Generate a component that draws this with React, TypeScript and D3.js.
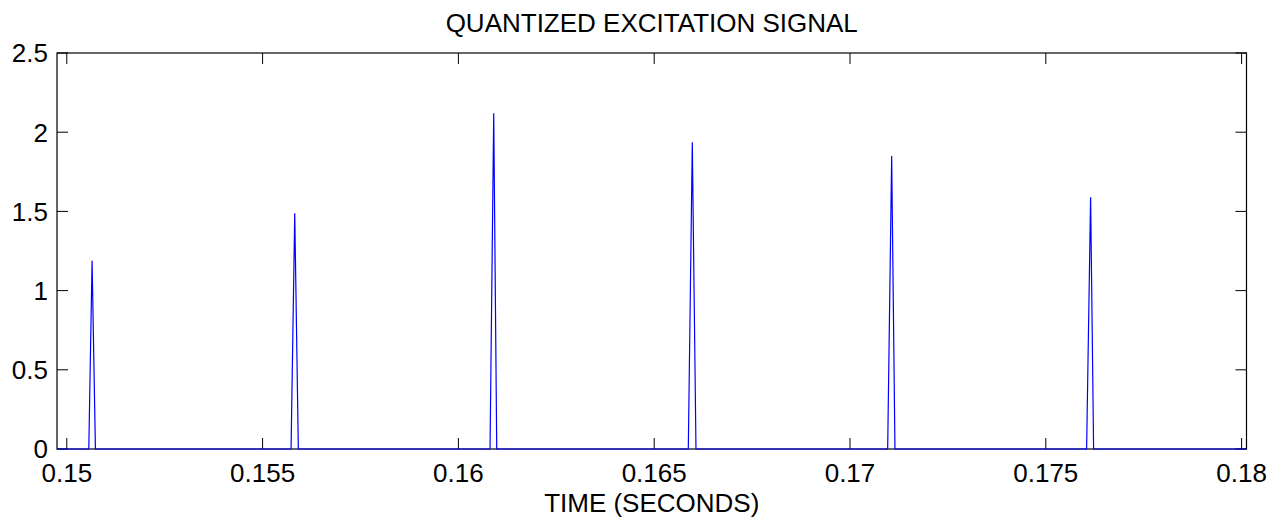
import React from "react";
import * as d3 from "d3";

const TITLE = "QUANTIZED EXCITATION SIGNAL";
const X_LABEL = "TIME (SECONDS)";

// signal samples (time in seconds, amplitude)
const sampleTimes = [
  0.14975,
  0.150562, 0.150646, 0.150731,
  0.155727, 0.155821, 0.155913,
  0.160808, 0.160902, 0.160979,
  0.165871, 0.165973, 0.166067,
  0.170962, 0.171064, 0.171148,
  0.176042, 0.176144, 0.176221,
  0.180125,
];
const sampleValues = [
  0,
  0, 1.189, 0,
  0, 1.488, 0,
  0, 2.119, 0,
  0, 1.936, 0,
  0, 1.85, 0,
  0, 1.589, 0,
  0,
];

const xTicks = [0.15, 0.155, 0.16, 0.165, 0.17, 0.175, 0.18];
const xTickLabels = ["0.15", "0.155", "0.16", "0.165", "0.17", "0.175", "0.18"];
const yTicks = [0, 0.5, 1, 1.5, 2, 2.5];
const yTickLabels = ["0", "0.5", "1", "1.5", "2", "2.5"];

const W = 1272;
const H = 519;
const L = 57;
const R = 1246.5;
const T = 53;
const B = 449;
const TICK = 11;
const FONT = "'Liberation Sans', Arial, Helvetica, sans-serif";
const FS = 26;

export default function App() {
  const x = d3.scaleLinear().domain([0.14975, 0.180125]).range([L, R]);
  const y = d3.scaleLinear().domain([0, 2.5]).range([B, T]);
  const pts: [number, number][] = sampleTimes.map((t, i) => [t, sampleValues[i]]);
  const line = d3
    .line<[number, number]>()
    .x((d) => x(d[0]))
    .y((d) => y(d[1]));

  return (
    <svg
      width={W}
      height={H}
      viewBox={`0 0 ${W} ${H}`}
      style={{ position: "absolute", left: 0, top: 0, background: "#fff" }}
      fontFamily={FONT}
    >
      <rect x={0} y={0} width={W} height={H} fill="#fff" />
      {/* frame */}
      <rect x={L} y={T} width={R - L} height={B - T} fill="none" stroke="#000" strokeWidth={1.2} />
      {/* x ticks */}
      {xTicks.map((t, i) => (
        <g key={"xt" + i}>
          <line x1={x(t)} x2={x(t)} y1={B} y2={B - TICK} stroke="#000" strokeWidth={1} />
          <line x1={x(t)} x2={x(t)} y1={T} y2={T + TICK} stroke="#000" strokeWidth={1} />
          <text x={x(t)} y={482} textAnchor="middle" fontSize={FS} fill="#000">
            {xTickLabels[i]}
          </text>
        </g>
      ))}
      {/* y ticks */}
      {yTicks.map((v, i) => (
        <g key={"yt" + i}>
          <line x1={L} x2={L + TICK} y1={y(v)} y2={y(v)} stroke="#000" strokeWidth={1} />
          <line x1={R} x2={R - TICK} y1={y(v)} y2={y(v)} stroke="#000" strokeWidth={1} />
          <text x={48} y={y(v)} dy="0.36em" textAnchor="end" fontSize={FS} fill="#000">
            {yTickLabels[i]}
          </text>
        </g>
      ))}
      {/* signal */}
      <path d={line(pts) || ""} fill="none" stroke="#0000ff" strokeWidth={1.2} />
      {/* title and label */}
      <text x={(L + R) / 2} y={32} textAnchor="middle" fontSize={FS} fill="#000">
        {TITLE}
      </text>
      <text x={(L + R) / 2} y={512} textAnchor="middle" fontSize={FS} fill="#000">
        {X_LABEL}
      </text>
    </svg>
  );
}
